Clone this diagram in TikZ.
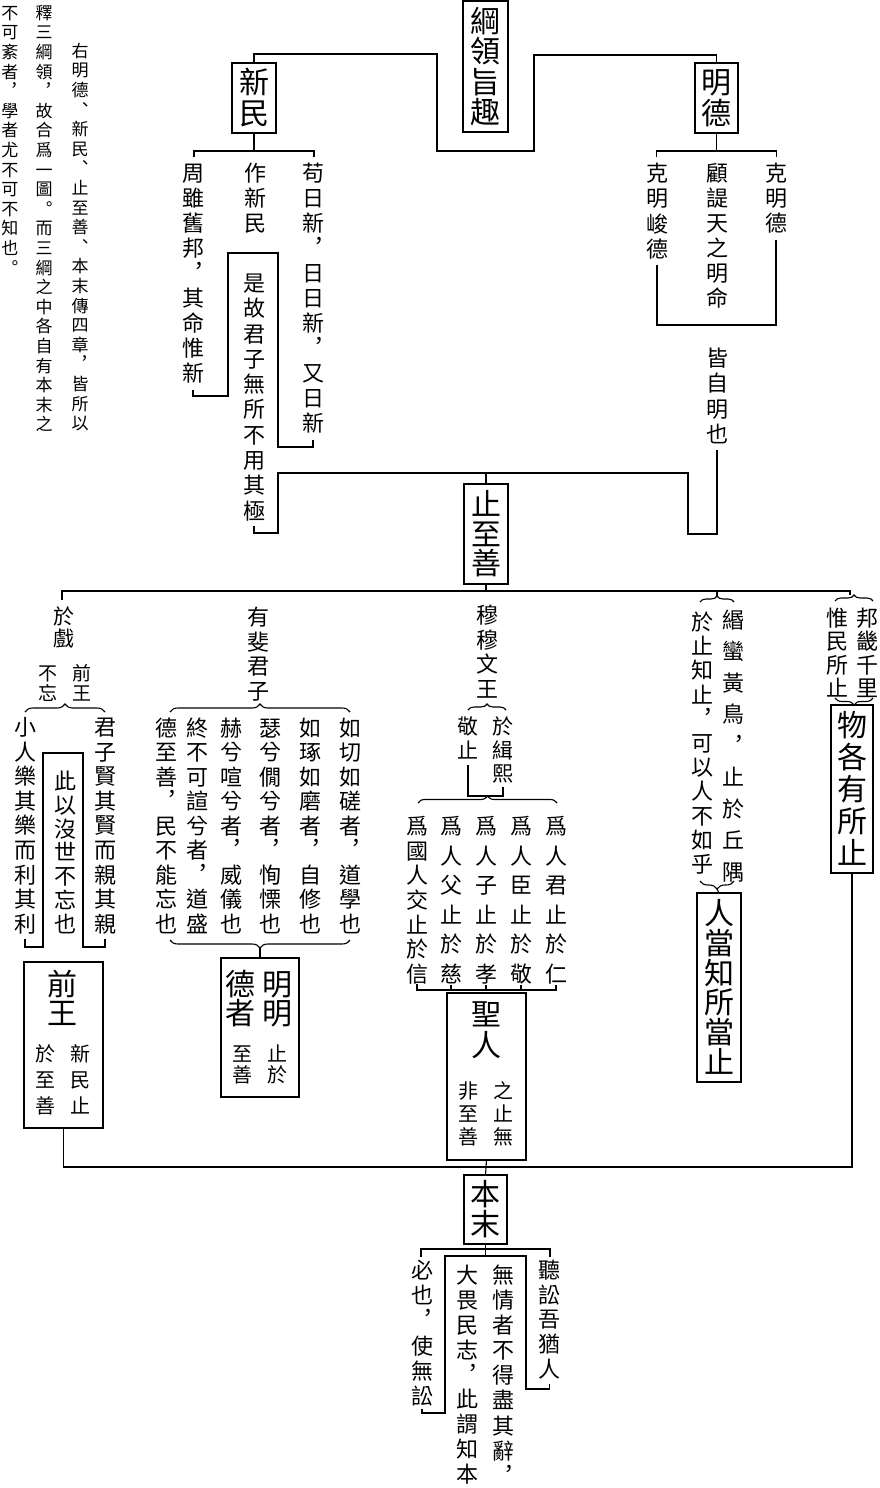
\documentclass[tikz,border=0pt]{standalone}
\usepackage{fontspec}
\setmainfont{Noto Sans CJK TC}
\newfontfamily\pfont{Noto Sans CJK JP}
\usetikzlibrary{decorations.pathreplacing,calc}

\newdimen\vtpitch
\def\vtend{\vtend}
\def\vtcell#1{\vbox to\vtpitch{\vss\hbox to 1em{\vrule height .88em depth .12em width 0pt\hss#1\hss}\vss}}
\def\vtloop#1{\ifx#1\vtend\else\vtcell{#1}\expandafter\vtloop\fi}
\newcommand\vcolbox[3]{\fontsize{#1}{#1}\selectfont\vtpitch=#2pt\relax\vbox{\offinterlineskip\vtloop#3\vtend}}
\def\1{{\pfont ︐}}
\def\2{{\pfont ︑}}
\def\3{{\pfont ︒}}
\newcommand\vtext[6]{\node[vt] (#1) at ({#2},{#3-(#5-#4)/2-0.04*#4}) {\vcolbox{#4}{#5}{#6}};}

\tikzset{
  ln/.style={line width=1.1pt},
  bx/.style={draw,line width=1.1pt,inner sep=0pt,outer sep=0pt,rectangle},
  vt/.style={inner sep=0pt,outer sep=0pt,anchor=north},
  brc/.style={decorate,decoration={brace,amplitude=#1},line width=1.1pt},
  brc/.default=7pt
}

\begin{document}
\begin{tikzpicture}[x=1pt,y=-1pt]
\useasboundingbox (0,0) rectangle (879,1488);
\fill[white] (0,0) rectangle (879,1488);

% notes
\vtext{n1}{80}{43}{17}{19.6}{右明德\2新民\2止至善\2本末傳四章\1皆所以}
\vtext{n2}{44}{5}{17}{19.6}{釋三綱領\1故合爲一圖\3而三綱之中各自有本末之}
\vtext{n3}{10}{5}{17}{19.6}{不可紊者\1學者尤不可不知也\3}

% main boxes
\node[bx,minimum width=45pt,minimum height=131pt] (gl) at (485.5,66.5) {\vcolbox{30}{30.3}{綱領旨趣}};
\node[bx,minimum width=44pt,minimum height=70pt] (xm) at (254,98) {\vcolbox{30}{31}{新民}};
\node[bx,minimum width=43pt,minimum height=70pt] (md) at (716.5,98) {\vcolbox{30}{31}{明德}};
\node[bx,minimum width=44pt,minimum height=100pt] (zs) at (486,534) {\vcolbox{30}{29.5}{止至善}};
\node[bx,minimum width=43pt,minimum height=69pt] (bm) at (485.5,1209.5) {\vcolbox{30}{30}{本末}};
\node[bx,minimum width=44pt,minimum height=189pt] (rd) at (719,987.5) {\vcolbox{30}{29.8}{人當知所當止}};
\node[bx,minimum width=42pt,minimum height=168pt] (wg) at (852,789) {\vcolbox{30}{32}{物各有所止}};

% composite boxes
\node[bx,minimum width=79pt,minimum height=166pt] (qw) at (63.5,1045) {};
\vtext{qwa}{62}{970}{30}{29}{前王}
\vtext{qwb}{80}{1045}{20}{26}{新民止}
\vtext{qwc}{45}{1045}{20}{26}{於至善}
\node[bx,minimum width=78pt,minimum height=139pt] (mm) at (260,1027.5) {};
\vtext{mma}{277}{970}{30}{29}{明明}
\vtext{mmb}{240}{970}{30}{29}{德者}
\vtext{mmc}{277}{1045}{20}{21}{止於}
\vtext{mmd}{242}{1045}{20}{21}{至善}
\node[bx,minimum width=79pt,minimum height=167pt] (sr) at (486.5,1076.5) {};
\vtext{sra}{486}{1000}{30}{31}{聖人}
\vtext{srb}{503}{1082}{20}{23}{之止無}
\vtext{src}{468}{1082}{20}{23}{非至善}

% xinmin / mingde texts
\vtext{zhou}{193}{163}{22}{25}{周雖舊邦\1其命惟新}
\vtext{zuo}{255}{163}{22}{25}{作新民}
\vtext{gou}{313}{163}{22}{25}{苟日新\1日日新\1又日新}
\vtext{shigu}{254}{273}{22}{25.3}{是故君子無所不用其極}
\vtext{km1}{657}{163}{22}{25.3}{克明峻德}
\vtext{gu}{717}{163}{22}{25}{顧諟天之明命}
\vtext{km2}{776}{163}{22}{25}{克明德}
\vtext{jie}{717}{348}{22}{25.3}{皆自明也}

% left group
\vtext{wuhu}{64}{607}{21}{21.5}{於戲}
\vtext{qw2}{82}{665}{19}{20}{前王}
\vtext{bw}{48}{665}{19}{20}{不忘}
\vtext{xr}{25}{717}{22}{24.6}{小人樂其樂而利其利}
\vtext{jz}{105}{717}{22}{24.6}{君子賢其賢而親其親}
\vtext{cy}{65}{771}{22}{23.8}{此以沒世不忘也}

% youfei group
\vtext{yf}{258}{607}{22}{24.7}{有斐君子}
\vtext{c1}{350}{718}{22}{24.5}{如切如磋者\1道學也}
\vtext{c2}{310}{718}{22}{24.5}{如琢如磨者\1自修也}
\vtext{c3}{270}{718}{22}{24.5}{瑟兮僩兮者\1恂慄也}
\vtext{c4}{231}{718}{22}{24.5}{赫兮喧兮者\1威儀也}
\vtext{c5}{197}{718}{22}{24.5}{終不可諠兮者\1道盛}
\vtext{c6}{166}{718}{22}{24.5}{德至善\1民不能忘也}

% wenwang group
\vtext{mu}{487}{605}{22}{24.7}{穆穆文王}
\vtext{yj}{503}{717}{21}{23.5}{於緝熙}
\vtext{jzh}{468}{717}{21}{23.5}{敬止}
\vtext{w1}{556}{816}{22}{29.6}{爲人君止於仁}
\vtext{w2}{521}{816}{22}{29.6}{爲人臣止於敬}
\vtext{w3}{486}{816}{22}{29.6}{爲人子止於孝}
\vtext{w4}{451}{816}{22}{29.6}{爲人父止於慈}
\vtext{w5}{417}{816}{22}{24.7}{爲國人交止於信}

% right groups
\vtext{mm1}{733}{610}{22}{31.5}{緡蠻黃鳥\1止於丘隅}
\vtext{yz}{702}{612}{22}{24.2}{於止知止\1可以人不如乎}
\vtext{bj}{867}{608}{22}{23.3}{邦畿千里}
\vtext{wm}{837}{608}{22}{23.3}{惟民所止}

% bottom group
\vtext{ts}{549.5}{1260}{22}{24.75}{聽訟吾猶人}
\vtext{wq}{503}{1265}{22}{25.1}{無情者不得盡其辭\1}
\vtext{dw}{467}{1265}{22}{24.9}{大畏民志\1此謂知本}
\vtext{by}{422}{1260}{22}{25.2}{必也\1使無訟}

% ---------- connectors ----------
\draw[ln] (xm.north) |- (437,54) |- (534,151) |- (716.5,55) -- (md.north);
\coordinate (xbar) at (254,151);
\draw[ln] (xm.south) -- (xbar);
\draw[ln] ($(xbar)+(-60,6)$) |- (xbar) -| ($(xbar)+(60,6)$);
\coordinate (mbar) at (716.5,151);
\draw[ln] (md.south) -- (mbar);
\draw[ln] ($(mbar)+(-60,6)$) |- (mbar) -| ($(mbar)+(60,6)$);

\draw[ln] ($(zhou.south)+(0,4)$) |- (228,396) |- (278,253) |- (313,447) -- ($(gou.south)+(0,4)$);
\draw[ln] ($(shigu.south)+(0,3)$) |- (278,533) -- (278,473) -- (688,473) |- (717,534) -- ($(jie.south)+(0,3)$);
\draw[ln] (zs.north) -- ++(0,-11);
\draw[ln] ($(km1.south)+(0,3)$) |- (776,325) -- ($(km2.south)+(0,4)$);

% main bar
\coordinate (mbar2) at (486,591);
\draw[ln] (zs.south) -- (mbar2);
\draw[ln] (62,600) |- (850,591) -- (850,595);
\draw[ln] (717,591) -- (717,596);

% left group
\draw[brc=8pt] (25,712) -- (105,712);
\draw[ln] ($(xr.south)+(0,3)$) |- (43,947) |- (83,753) |- (105,947) -- ($(jz.south)+(0,3)$);
\draw[ln] (qw.south) |- (852,1167) -- (wg.south);

% youfei group
\draw[brc=8pt] (170,712) -- (350,712);
\draw[brc=8pt] (350,940) -- (170,940);
\draw[ln] (260,948) -- (mm.north);

% wenwang group
\draw[brc=6pt] (468,710) -- (506,710);
\draw[ln] ($(jzh.south)+(0,3)$) |- (503,796) -- ($(yj.south)+(0,2)$);
\draw[brc=7pt] (418,803) -- (557,803);
\coordinate (wbar) at (486,990);
\draw[ln] ($(w5.south)+(0,-3)$) |- (wbar) -| ($(w1.south)+(0,-4)$);
\draw[ln] ($(w2.south)+(0,-4)$) -- (wbar -| w2.south);
\draw[ln] ($(w3.south)+(0,-4)$) -- (wbar);
\draw[ln] ($(w4.south)+(0,-4)$) -- (wbar -| w4.south);
\draw[ln] (sr.south) -- (bm.north);

% right groups
\draw[brc=6pt] (700,602) -- (734,602);
\draw[brc=8pt] (734,881) -- (700,881);
\draw[ln] (717,889) -- (rd.north);
\draw[brc=6pt] (835,601) -- (873,601);
\draw[brc=7pt] (873,698) -- (835,698);

% bottom group
\draw[ln] (bm.south) -- (485.5,1256);
\draw[ln] (421,1257) |- (550,1249) -- (550,1257);
\draw[ln] (by.south) |- (445,1413) |- (526,1256) |- (549.5,1389) -- ($(ts.south)+(0,2)$);
\end{tikzpicture}
\end{document}
